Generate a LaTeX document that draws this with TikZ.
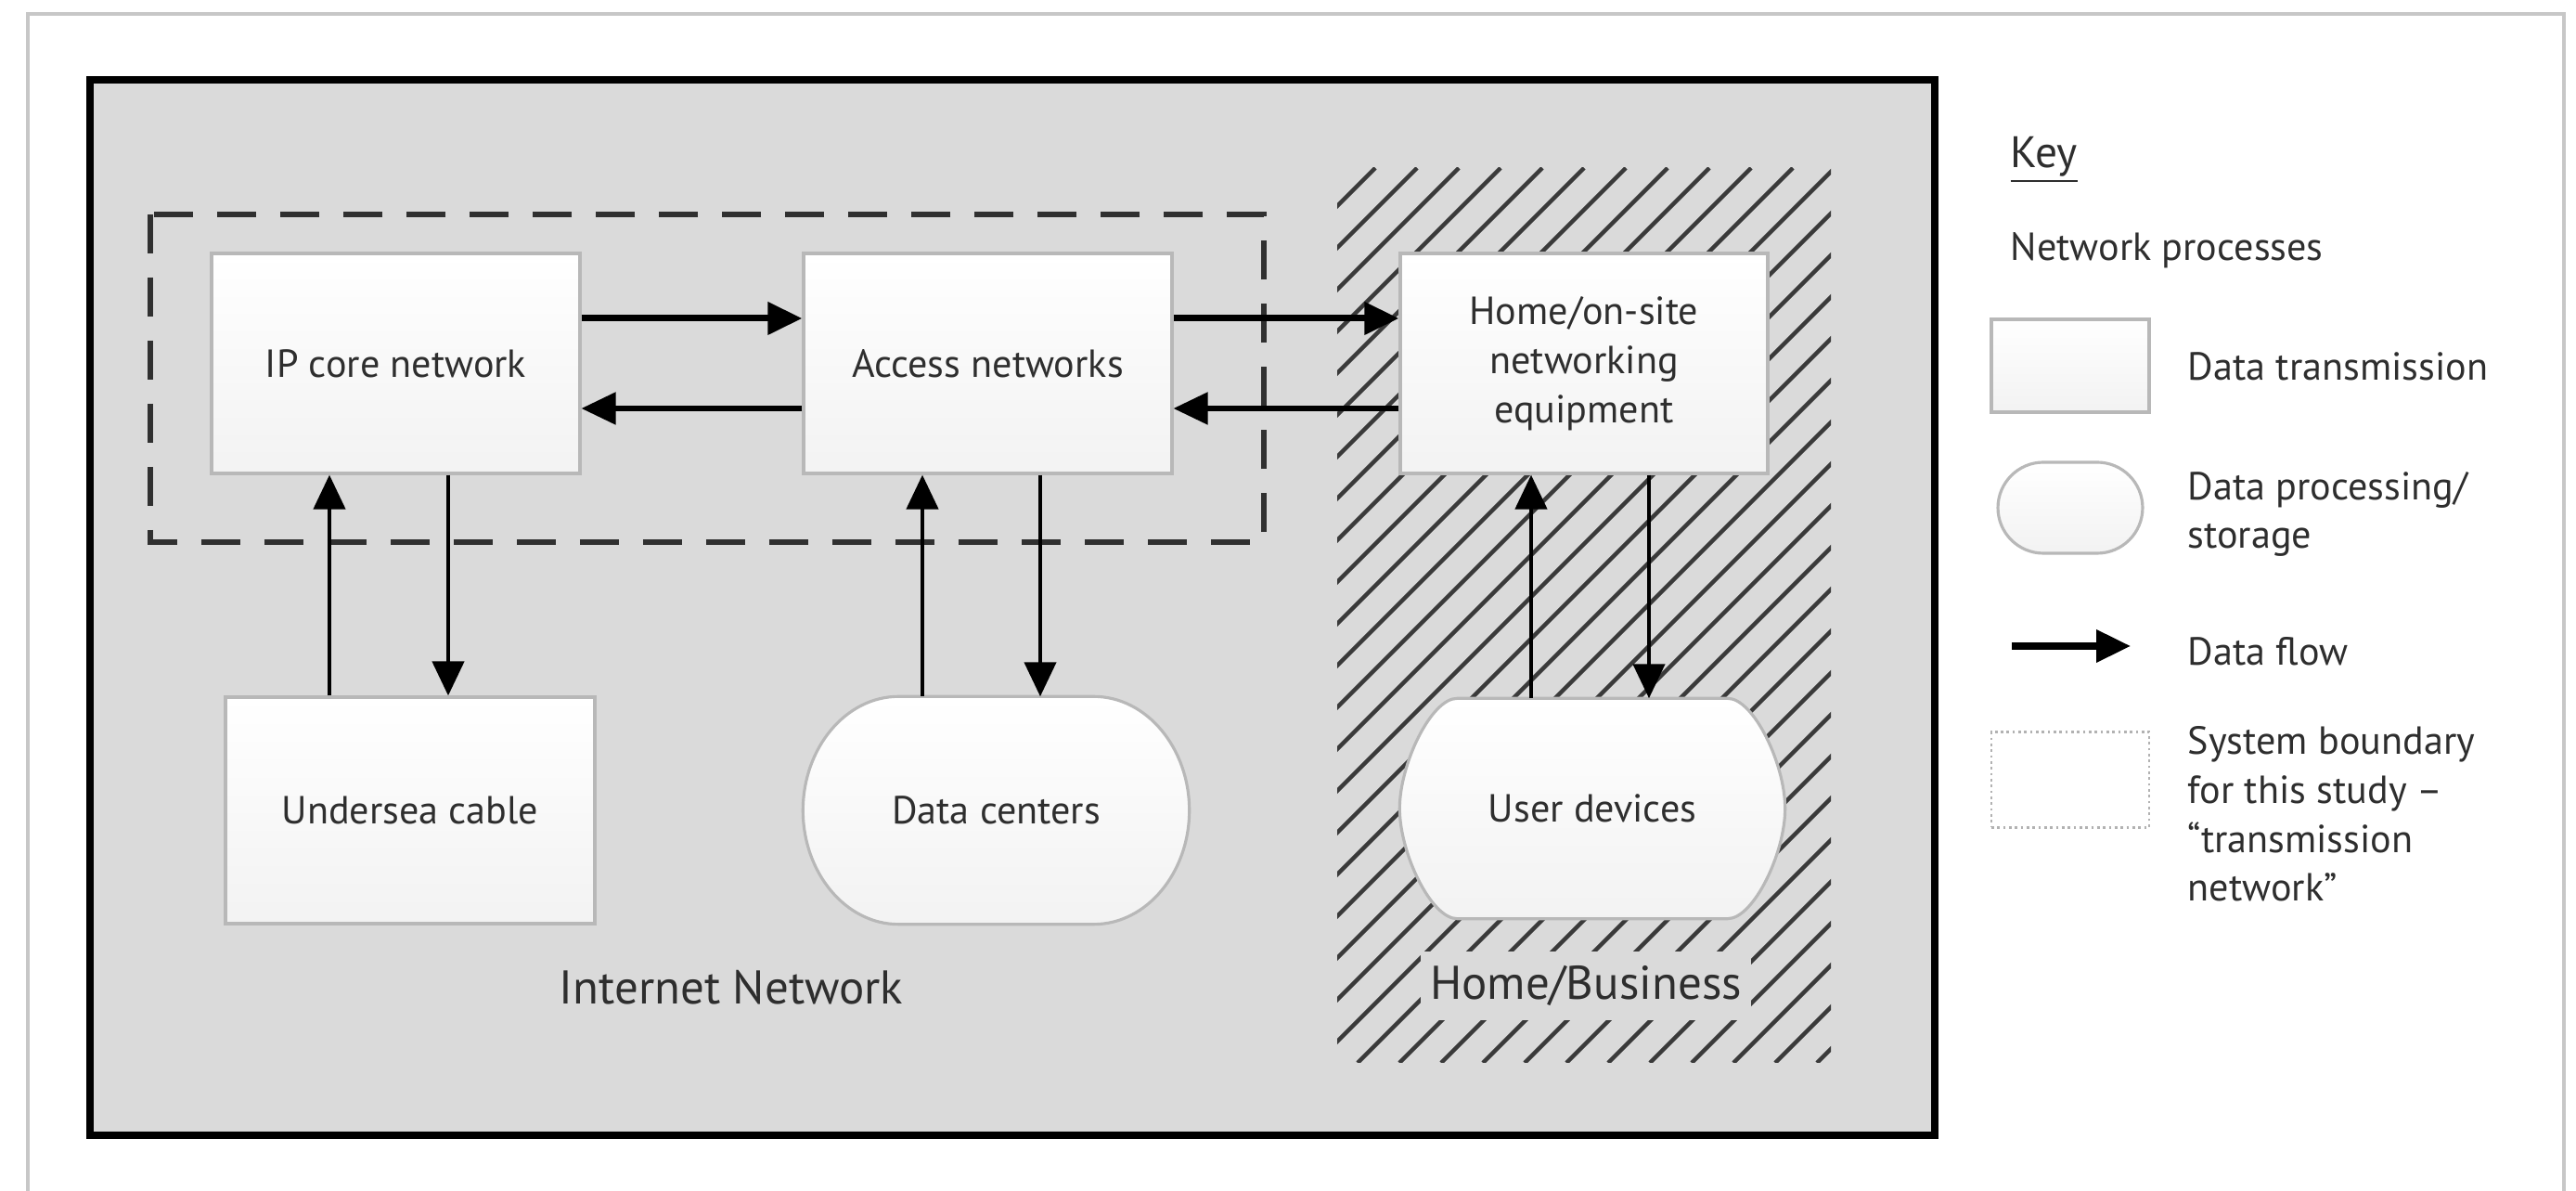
\documentclass[tikz,border=0pt]{standalone}
\usepackage{fontspec}
\setmainfont{PT Sans}
\usetikzlibrary{shapes.misc,arrows.meta,calc}
\definecolor{bggray}{HTML}{DADADA}
\definecolor{txt}{HTML}{2E2E2E}
\definecolor{hatchc}{HTML}{3A3A3A}
\definecolor{dashc}{HTML}{303030}
\begin{document}
\begin{tikzpicture}[x=1cm,y=1cm,
  font=\fontsize{12}{15}\selectfont, text=txt,
  proc/.style={rectangle, draw=black!28, line width=0.9pt, top color=white, bottom color=black!5,
    minimum width=3.97cm, minimum height=2.37cm, align=center, inner sep=2pt},
  store/.style={rounded rectangle, draw=black!28, line width=0.9pt, top color=white, bottom color=black!5,
    align=center, inner sep=2pt},
  barrelbox/.style={rectangle, minimum width=#1, inner sep=0pt},
  barrelfill/.style={draw=black!28, line width=0.9pt, top color=white, bottom color=black!5},
  flow/.style={-{Triangle[length=0.37cm,width=0.34cm]}, line width=1.25pt, black},
  flowthick/.style={flow, line width=2pt},
  hatchline/.style={hatchc, line width=1.3pt},
  boundary/.style={dashc, line width=1.8pt, dash pattern=on 0.42cm off 0.26cm},
  lbl/.style={inner sep=0pt, anchor=west, align=left},
  big/.style={font=\fontsize{14.5}{17}\selectfont}
]
\useasboundingbox (0,0) rectangle (27.76,-12.83);
\fill[white] (0,0) rectangle (27.76,-12.83);
% outer light frame
\draw[black!22, line width=1pt] (0.30,-13.0) -- (0.30,-0.15) -- (27.63,-0.15) -- (27.63,-13.0);
% main black box
\draw[fill=bggray, line width=2.2pt] (0.97,-0.86) rectangle (20.85,-12.23);
% hatched home/business region
\begin{scope}
  \clip (14.41,-1.81) rectangle (19.73,-11.45);
  \foreach \k in {0,...,33} \draw[hatchline] ({5.18+0.45*\k},-11.45) -- ++(9.64,9.64);
\end{scope}
% system boundary
\draw[boundary] (1.62,-2.31) rectangle (13.62,-5.84);

% nodes
\node[proc] (ip) at (4.265,-3.915) {IP core network};
\node[proc] (acc) at (10.645,-3.915) {Access networks};
\node[proc, minimum width=3.96cm] (home) at (17.07,-3.915) {Home/on-site\\networking\\equipment};
\node[proc, minimum width=3.98cm, minimum height=2.44cm] (under) at (4.42,-8.73) {Undersea cable};

% data centers (barrel shape)
\node[barrelbox=4.15cm, minimum height=2.44cm] (dc) at (10.735,-8.73) {};
\path[barrelfill] ([xshift=1.03cm]dc.north west) -- ([xshift=-1.03cm]dc.north east)
  .. controls +(0.57,0) and +(0,0.67) .. (dc.east)
  .. controls +(0,-0.67) and +(0.57,0) .. ([xshift=-1.03cm]dc.south east)
  -- ([xshift=1.03cm]dc.south west)
  .. controls +(-0.57,0) and +(0,-0.67) .. (dc.west)
  .. controls +(0,0.67) and +(-0.57,0) .. cycle;
\node (dct) at (dc.center) {Data centers};

% user devices (barrel shape)
\node[barrelbox=4.14cm, minimum height=2.36cm] (ud) at (17.16,-8.71) {};
\path[barrelfill] ([xshift=0.62cm]ud.north west) -- ([xshift=-0.62cm]ud.north east)
  .. controls +(0.28,0) and +(0,0.48) .. (ud.east)
  .. controls +(0,-0.48) and +(0.28,0) .. ([xshift=-0.62cm]ud.south east)
  -- ([xshift=0.62cm]ud.south west)
  .. controls +(-0.28,0) and +(0,-0.48) .. (ud.west)
  .. controls +(0,0.48) and +(-0.28,0) .. cycle;
\node (udt) at (ud.center) {User devices};

\node[big] (inet) at (7.88,-10.64) {Internet Network};
\node[big, fill=bggray, inner xsep=0.1cm, inner ysep=0.15cm] (hb) at (17.09,-10.62) {Home/Business};

% connectors
\coordinate (x1) at (3.55,0);
\coordinate (x2) at (4.83,0);
\coordinate (x3) at (9.94,0);
\coordinate (x4) at (11.21,0);
\coordinate (x5) at (16.50,0);
\coordinate (x6) at (17.77,0);
\coordinate (yA) at (0,-3.43);
\coordinate (yB) at (0,-4.40);

\draw[flowthick] (ip.east |- yA) -- (acc.west |- yA);
\draw[flow, line width=1.5pt] (acc.west |- yB) -- (ip.east |- yB);
\draw[flowthick] (acc.east |- yA) -- (home.west |- yA);
\draw[flow, line width=1.5pt] (home.west |- yB) -- (acc.east |- yB);
\draw[flow] (x1 |- under.north) -- (x1 |- ip.south);
\draw[flow] (x2 |- ip.south) -- (x2 |- under.north);
\draw[flow] (x3 |- dc.north) -- (x3 |- acc.south);
\draw[flow] (x4 |- acc.south) -- (x4 |- dc.north);
\draw[flow] (x5 |- ud.north) -- (x5 |- home.south);
\draw[flow] (x6 |- home.south) -- (x6 |- ud.north);

% key
\node[lbl, font=\fontsize{13.5}{15}\selectfont] (key) at (21.66,-1.72) {\underline{Key}};
\node[lbl] (np) at (21.66,-2.70) {Network processes};
\node[proc, minimum width=1.70cm, minimum height=1.0cm] (k1) at (22.31,-3.94) {};
\node[lbl] (k1t) at (23.57,-3.95) {Data transmission};
\node[store, minimum width=1.70cm, minimum height=0.98cm, rounded rectangle arc length=180] (k2) at (22.31,-5.47) {};
\node[lbl] (k2t) at (23.57,-5.54) {Data processing/\\storage};
\coordinate (k3a) at (21.68,-6.96);
\coordinate (k3b) at (22.96,-6.96);
\draw[flowthick] (k3a) -- (k3b);
\node[lbl] (k3t) at (23.57,-7.02) {Data flow};
\node[draw=black!30, densely dotted, line width=0.8pt, minimum width=1.7cm, minimum height=1.03cm] (k4) at (22.31,-8.40) {};
\node[lbl] (k4t) at (23.57,-8.77) {System boundary\\for this study –\\“transmission\\network”};
\end{tikzpicture}
\end{document}
